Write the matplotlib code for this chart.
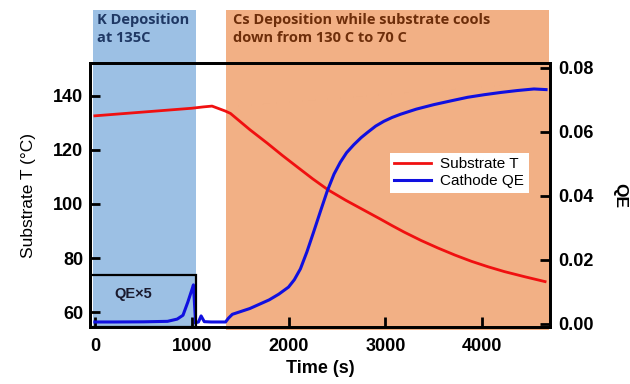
import matplotlib.pyplot as plt
from matplotlib.patches import Rectangle
import matplotlib.transforms as mtransforms

# substrate temperature (deg C) vs time (s)
t_temp = [0, 500, 1000, 1120, 1210, 1345, 1400, 1600, 1780, 1935, 2090, 2250, 2410, 2590, 2775, 2950,
          3070, 3195, 3370, 3545, 3720, 3890, 4060, 4230, 4440, 4650]
temp = [132.6, 134.0, 135.4, 135.9, 136.2, 134.4, 133.5, 127.5, 122.5, 118.0, 113.7, 109.3, 105.2, 101.4,
        97.8, 94.4, 92.0, 89.6, 86.5, 83.7, 81.1, 78.8, 76.8, 75.0, 73.1, 71.3]

# cathode QE during K deposition (drawn x5)
t_k = [0, 200, 500, 750, 850, 910, 960, 1000, 1018, 1040]
qe_k = [0.00012, 0.00012, 0.00013, 0.00016, 0.0003, 0.00054, 0.00136, 0.0021, 0.00244, 0.0001]
k_scale = 5

# cathode QE after K deposition / during Cs deposition
t_cs = [1040, 1070, 1097, 1130, 1200, 1350, 1380, 1420, 1600, 1800, 1900, 2000, 2060, 2123, 2190,
        2257, 2330, 2400, 2470, 2535, 2600, 2675, 2750, 2815, 2900, 2985, 3070, 3157, 3320, 3500,
        3680, 3850, 4020, 4190, 4360, 4535, 4660]
qe_cs = [0.0004, 0.0006, 0.0025, 0.0007, 0.0006, 0.0006, 0.0018, 0.0030, 0.0048, 0.0075, 0.0093, 0.0115,
         0.0138, 0.0172, 0.0225, 0.0285, 0.0352, 0.0415, 0.0468, 0.0505, 0.0535, 0.0560, 0.0582, 0.0598,
         0.0618, 0.0633, 0.0645, 0.0655, 0.0671, 0.0685, 0.0697, 0.0708, 0.0716, 0.0723, 0.0729, 0.0734,
         0.0732]

# deposition windows (s)
k_window = (0, 1040)
cs_window = (1352, 4690)
k_text = 'K Deposition\nat 135C'
cs_text = 'Cs Deposition while substrate cools\ndown from 130 C to 70 C'

plt.rcParams['font.family'] = ['Liberation Sans', 'DejaVu Sans']

fig = plt.figure(figsize=(6.3, 3.84), dpi=100)
ax = fig.add_axes([0.1429, 0.149, 0.73, 0.686])
ax2 = ax.twinx()

ax.set_xlim(-50, 4700)
ax.set_ylim(54.6, 152)
ax2.set_ylim(-0.0009, 0.0814)

# shaded windows run up above the plot frame
trans = mtransforms.blended_transform_factory(ax.transData, ax.transAxes)
ax.add_patch(Rectangle((k_window[0] - 15, -0.005), k_window[1] - k_window[0] + 15, 1.207,
                       transform=trans, color='#9cc0e4', clip_on=False, zorder=0, lw=0))
ax.add_patch(Rectangle((cs_window[0], -0.012), cs_window[1] - cs_window[0], 1.214,
                       transform=trans, color='#f2b085', clip_on=False, zorder=0, lw=0))
ax.text(k_window[0] + 20, 1.19, k_text, transform=trans, va='top', ha='left',
        fontsize=10.5, fontweight='bold', color='#1f3864', family=['Open Sans', 'DejaVu Sans'],
        linespacing=1.35)
ax.text(cs_window[0] + 70, 1.19, cs_text, transform=trans, va='top', ha='left',
        fontsize=10.5, fontweight='bold', color='#6e2e0a', family=['Open Sans', 'DejaVu Sans'],
        linespacing=1.35)

l1, = ax.plot(t_temp, temp, color='#f01010', lw=2, label='Substrate T', zorder=3)
ax2.plot(t_k, [q * k_scale for q in qe_k], color='#1010e0', lw=2.2, zorder=3)
l2, = ax2.plot(t_cs, qe_cs, color='#1010e0', lw=2.2, label='Cathode QE', zorder=3)

# inset frame for the scaled K-deposition trace
ax2.add_patch(Rectangle((-50, -0.0009), k_window[1] + 50, 0.0161, fill=False,
                        ec='black', lw=1.6, zorder=4))
ax2.text(400, 0.0093, 'QE×5', ha='center', va='center', fontsize=10.5,
         fontweight='bold', color='#1a1a2e')

ax.set_xticks([0, 1000, 2000, 3000, 4000])
ax.set_yticks([60, 80, 100, 120, 140])
ax2.set_yticks([0.0, 0.02, 0.04, 0.06, 0.08])
ax2.set_yticklabels(['0.00', '0.02', '0.04', '0.06', '0.08'])

for a in (ax, ax2):
    a.tick_params(direction='in', length=7, width=2, labelsize=13)
    for lab in a.get_xticklabels() + a.get_yticklabels():
        lab.set_fontweight('bold')
    for s in a.spines.values():
        s.set_linewidth(2)
ax.tick_params(axis='x', pad=8)
ax.tick_params(axis='y', pad=5)
ax2.tick_params(axis='y', pad=6)

ax.set_xlabel('Time (s)', fontsize=13, fontweight='bold', labelpad=4)
ax.set_ylabel('Substrate T (°C)', fontsize=12.5, labelpad=12)
ax2.set_ylabel('QE', fontsize=12.5, fontweight='bold', rotation=270, labelpad=24)

leg = ax2.legend([l1, l2], ['Substrate T', 'Cathode QE'], loc='upper left',
                 bbox_to_anchor=(0.635, 0.69), fontsize=11, frameon=True, fancybox=False,
                 handlelength=2.4, borderpad=0.3, labelspacing=0.2, handletextpad=0.6)
leg.get_frame().set_edgecolor('none')
leg.get_frame().set_facecolor('white')
leg.get_frame().set_alpha(1)

fig.savefig('out.png', dpi=100)
